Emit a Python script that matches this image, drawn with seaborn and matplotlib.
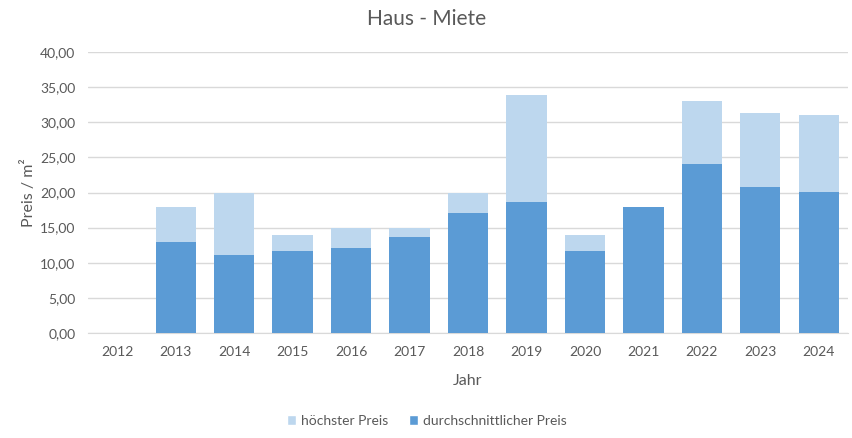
import numpy as np
import pandas as pd
import matplotlib
matplotlib.use("Agg")
import matplotlib.pyplot as plt
import seaborn as sns
from matplotlib.patches import Patch
from matplotlib.ticker import FuncFormatter

years = ["2012", "2013", "2014", "2015", "2016", "2017", "2018", "2019", "2020", "2021", "2022", "2023", "2024"]
max_price = [np.nan, 18.0, 20.0, 14.0, 15.0, 15.0, 20.0, 33.9, 14.0, 18.0, 33.0, 31.25, 31.1]
avg_price = [np.nan, 13.0, 11.15, 11.7, 12.15, 13.6, 17.05, 18.6, 11.7, 18.0, 24.0, 20.75, 20.1]

df = pd.DataFrame({"Jahr": years, "max": max_price, "avg": avg_price})

sns.set_style("white")
plt.rcParams['font.family'] = ['Lato', 'DejaVu Sans']

fig = plt.figure(figsize=(8.53, 4.38), dpi=100)
ax = fig.add_axes([88/853, 1 - 333/438, 760/853, 281/438])

light = "#BDD7EE"
dark = "#5B9BD5"
sns.barplot(data=df, x="Jahr", y="max", order=years, color=light, width=0.69,
            saturation=1, linewidth=0, ax=ax, zorder=2)
sns.barplot(data=df, x="Jahr", y="avg", order=years, color=dark, width=0.69,
            saturation=1, linewidth=0, ax=ax, zorder=3)

ax.set_ylim(0, 40)
ax.set_xlim(-0.5, 12.5)
ax.set_yticks(np.arange(0, 41, 5))
ax.yaxis.set_major_formatter(FuncFormatter(lambda v, p: f"{v:.2f}".replace(".", ",")))
ax.grid(axis="y", color="#D9D9D9", linewidth=1, zorder=0)
ax.set_axisbelow(True)
for s in ["top", "right", "left"]:
    ax.spines[s].set_visible(False)
ax.spines["bottom"].set_color("#D9D9D9")
ax.tick_params(axis="both", length=0, labelsize=10, colors="#595959", pad=9)
ax.tick_params(axis="x", pad=9)
ax.set_xlabel("Jahr", fontsize=11.5, color="#595959", labelpad=12)
ax.set_ylabel("Preis / m²", fontsize=11.5, color="#595959", labelpad=3)

fig.text(0.5, 1 - 19/438, "Haus - Miete", ha="center", va="center", fontsize=15, color="#595959")

handles = [Patch(facecolor=light, label="höchster Preis"),
           Patch(facecolor=dark, label="durchschnittlicher Preis")]
fig.legend(handles=handles, loc="center", bbox_to_anchor=(0.5, 1 - 421/438), ncol=2,
           frameon=False, fontsize=10, handlelength=0.7, handleheight=0.7,
           handletextpad=0.3, columnspacing=1.5, labelcolor="#595959")

fig.savefig("out.png", dpi=100)
